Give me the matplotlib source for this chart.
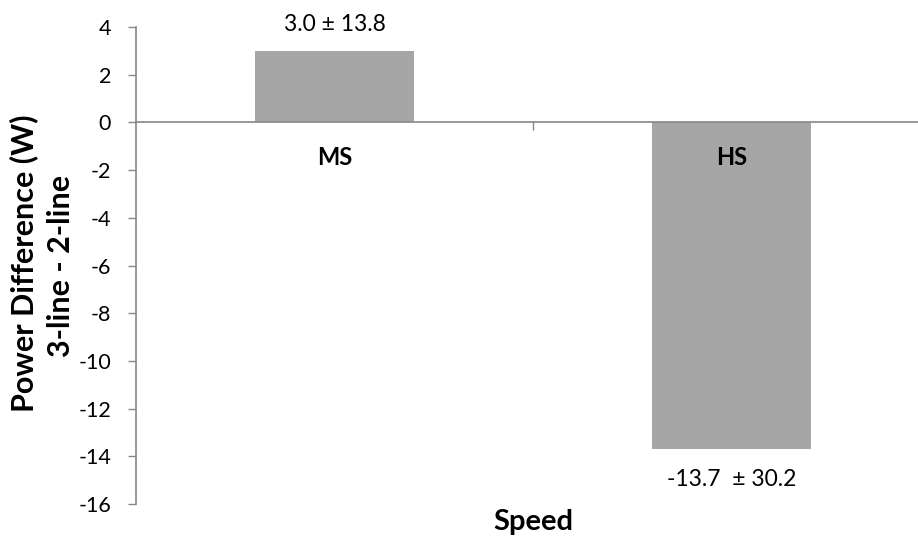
import matplotlib
matplotlib.use("Agg")
import matplotlib.pyplot as plt
from matplotlib.ticker import FixedLocator

categories = ["MS", "HS"]
values = [3.0, -13.7]
value_labels = ["3.0 ± 13.8", "-13.7  ± 30.2"]
yticks = [4, 2, 0, -2, -4, -6, -8, -10, -12, -14, -16]

plt.rcParams['font.family'] = ['Lato', 'DejaVu Sans']

fig = plt.figure(figsize=(9.18, 5.44), dpi=100)
ax = fig.add_axes([136/918, 1-504/544, (930-136)/918, (504-27)/544])

axis_col = "#868686"
x = list(range(len(categories)))
ax.bar(x, values, width=0.4, color="#A6A6A6", zorder=0.5)

ax.set_xlim(-0.5, len(categories)-0.5)
ax.set_ylim(min(yticks), max(yticks))
ax.set_yticks(yticks)
ax.set_yticklabels([str(t) for t in yticks], fontsize=15.5)
ax.tick_params(axis='y', direction='out', length=6, width=1, color=axis_col, pad=12)

for s in ['top', 'right']:
    ax.spines[s].set_visible(False)
ax.spines['bottom'].set_position(('data', 0))
ax.spines['bottom'].set_color(axis_col)
ax.spines['left'].set_color(axis_col)
ax.spines['bottom'].set_linewidth(1.2)
ax.spines['left'].set_linewidth(1.2)

ax.set_xticks(x)
ax.set_xticklabels(categories, fontsize=17, fontweight='bold')
ax.tick_params(axis='x', which='major', length=0, pad=17)
ax.xaxis.set_minor_locator(FixedLocator([i + 0.5 for i in x[:-1]]))
ax.tick_params(axis='x', which='minor', direction='out', length=6, width=1, color=axis_col)

# value annotations
ax.annotate(value_labels[0], (x[0], values[0]), xytext=(0, 19), textcoords='offset points',
            ha='center', va='center', fontsize=16.5)
ax.annotate(value_labels[1], (x[1], values[1]), xytext=(0, -21.5), textcoords='offset points',
            ha='center', va='center', fontsize=16.5)

fig.text(24/918, 1-263/544, "Power Difference (W)", rotation=90, ha='center', va='center',
         fontsize=22, fontweight='bold')
fig.text(61/918, 1-266/544, "3-line - 2-line", rotation=90, ha='center', va='center',
         fontsize=22, fontweight='bold')
fig.text(533/918, 1-522/544, "Speed", ha='center', va='center', fontsize=21, fontweight='bold')

fig.savefig("out.png", dpi=100)
